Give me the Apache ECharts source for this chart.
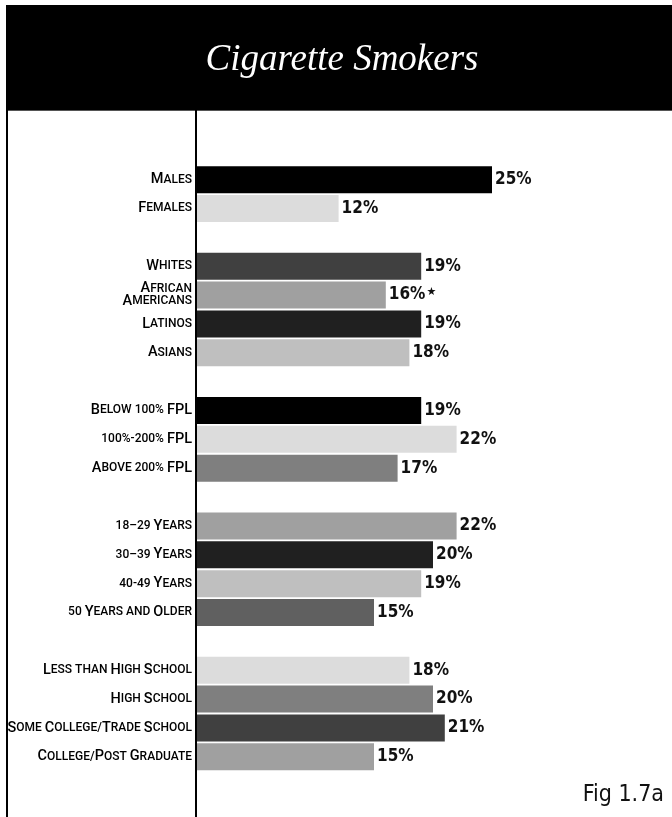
<!DOCTYPE html>
<html>
<head>
<meta charset="utf-8">
<script src="https://cdn.jsdelivr.net/npm/echarts@6/dist/echarts.min.js"></script>
<style>
  html, body { margin: 0; padding: 0; background: #fff; }
  #chart { width: 672px; height: 817px; }
</style>
</head>
<body>
<div id="chart"></div>
<script>
// Rows of the chart; empty strings are spacer rows between groups.
const categories = [
  'Males', 'Females', '',
  'Whites', 'African\nAmericans', 'Latinos', 'Asians', '',
  'Below 100% FPL', '100%-200% FPL', 'Above 200% FPL', '',
  '18–29 Years', '30–39 Years', '40-49 Years', '50 Years and Older', '',
  'Less than High School', 'High School', 'Some College/Trade School', 'College/Post Graduate'
];
// Share of each group who smoke cigarettes (%).
const smokers = [
  25, 12, null,
  19, 16, 19, 18, null,
  19, 22, 17, null,
  22, 20, 19, 15, null,
  18, 20, 21, 15
];
// Rows whose value carries a footnote star.
const starred = ['African\nAmericans'];
// Fill of each bar.
const barColors = [
  '#000000', '#dcdcdc', null,
  '#404040', '#a0a0a0', '#202020', '#bfbfbf', null,
  '#000000', '#dcdcdc', '#7f7f7f', null,
  '#a0a0a0', '#202020', '#bfbfbf', '#606060', null,
  '#dcdcdc', '#7f7f7f', '#404040', '#a0a0a0'
];

const LABEL_FONT = 'Roboto, "DejaVu Sans Condensed", sans-serif';
const NUM_FONT = '"DejaVu Sans Condensed", "DejaVu Sans", sans-serif';

// Small-caps: original capitals stay large, everything else becomes small capitals.
function smallCaps(text) {
  return text.split('\n').map(line => {
    let out = '', run = '', big = null;
    for (const ch of line) {
      const isBig = ch !== ch.toLowerCase() && ch === ch.toUpperCase();
      if (big !== null && isBig !== big) {
        out += '{' + (big ? 'b' : 's') + '|' + run + '}';
        run = '';
      }
      big = isBig;
      run += ch.toUpperCase();
    }
    if (run) out += '{' + (big ? 'b' : 's') + '|' + run + '}';
    return out;
  }).join('\n');
}

const chart = echarts.init(document.getElementById('chart'), null, { renderer: 'canvas' });

chart.setOption({
  animation: false,
  backgroundColor: '#ffffff',
  grid: { left: 197, top: 165.2, width: 472, height: 606 },
  xAxis: { type: 'value', min: 0, max: 40, show: false },
  yAxis: {
    type: 'category',
    inverse: true,
    data: categories,
    axisLine: { show: false },
    axisTick: { show: false },
    splitLine: { show: false },
    axisLabel: {
      margin: 5,
      formatter: v => v ? smallCaps(v) : '',
      lineHeight: 12.5,
      rich: {
        b: { fontFamily: LABEL_FONT, fontSize: 14.5, fontWeight: 500, color: '#000', lineHeight: 12.5 },
        s: { fontFamily: LABEL_FONT, fontSize: 12, fontWeight: 500, color: '#000', lineHeight: 12.5 }
      }
    }
  },
  series: [{
    type: 'bar',
    barWidth: 27,
    data: smokers.map((v, i) => v == null ? null : {
      value: v,
      itemStyle: { color: barColors[i] }
    }),
    label: {
      show: true,
      position: 'right',
      distance: 3,
      formatter: p => '{n|' + p.value + '%}' + (starred.includes(categories[p.dataIndex]) ? '{st|★}' : ''),
      rich: {
        n: { fontFamily: NUM_FONT, fontSize: 17, fontWeight: 'bold', color: '#111' },
        st: { fontFamily: '"DejaVu Sans", sans-serif', fontSize: 11, color: '#111', padding: [0, 0, 6, 1] }
      }
    }
  }],
  graphic: [
    { type: 'rect', shape: { x: 6, y: 5, width: 666, height: 105 }, style: { fill: '#000' } },
    { type: 'line', shape: { x1: 8, y1: 110.5, x2: 672, y2: 110.5 }, style: { stroke: '#555', lineWidth: 1 } },
    { type: 'line', shape: { x1: 7, y1: 105, x2: 7, y2: 817 }, style: { stroke: '#000', lineWidth: 2 } },
    { type: 'line', shape: { x1: 196, y1: 110, x2: 196, y2: 817 }, style: { stroke: '#000', lineWidth: 2 } },
    {
      type: 'text', x: 342, y: 60,
      style: {
        text: 'Cigarette Smokers', fill: '#fff',
        font: 'italic 37px "Liberation Serif", serif',
        textAlign: 'center', textVerticalAlign: 'middle'
      }
    },
    {
      type: 'text', x: 664, y: 795,
      style: {
        text: 'Fig 1.7a', fill: '#111',
        font: '23px "DejaVu Sans Condensed", sans-serif',
        textAlign: 'right', textVerticalAlign: 'middle'
      }
    }
  ]
});
</script>
</body>
</html>
